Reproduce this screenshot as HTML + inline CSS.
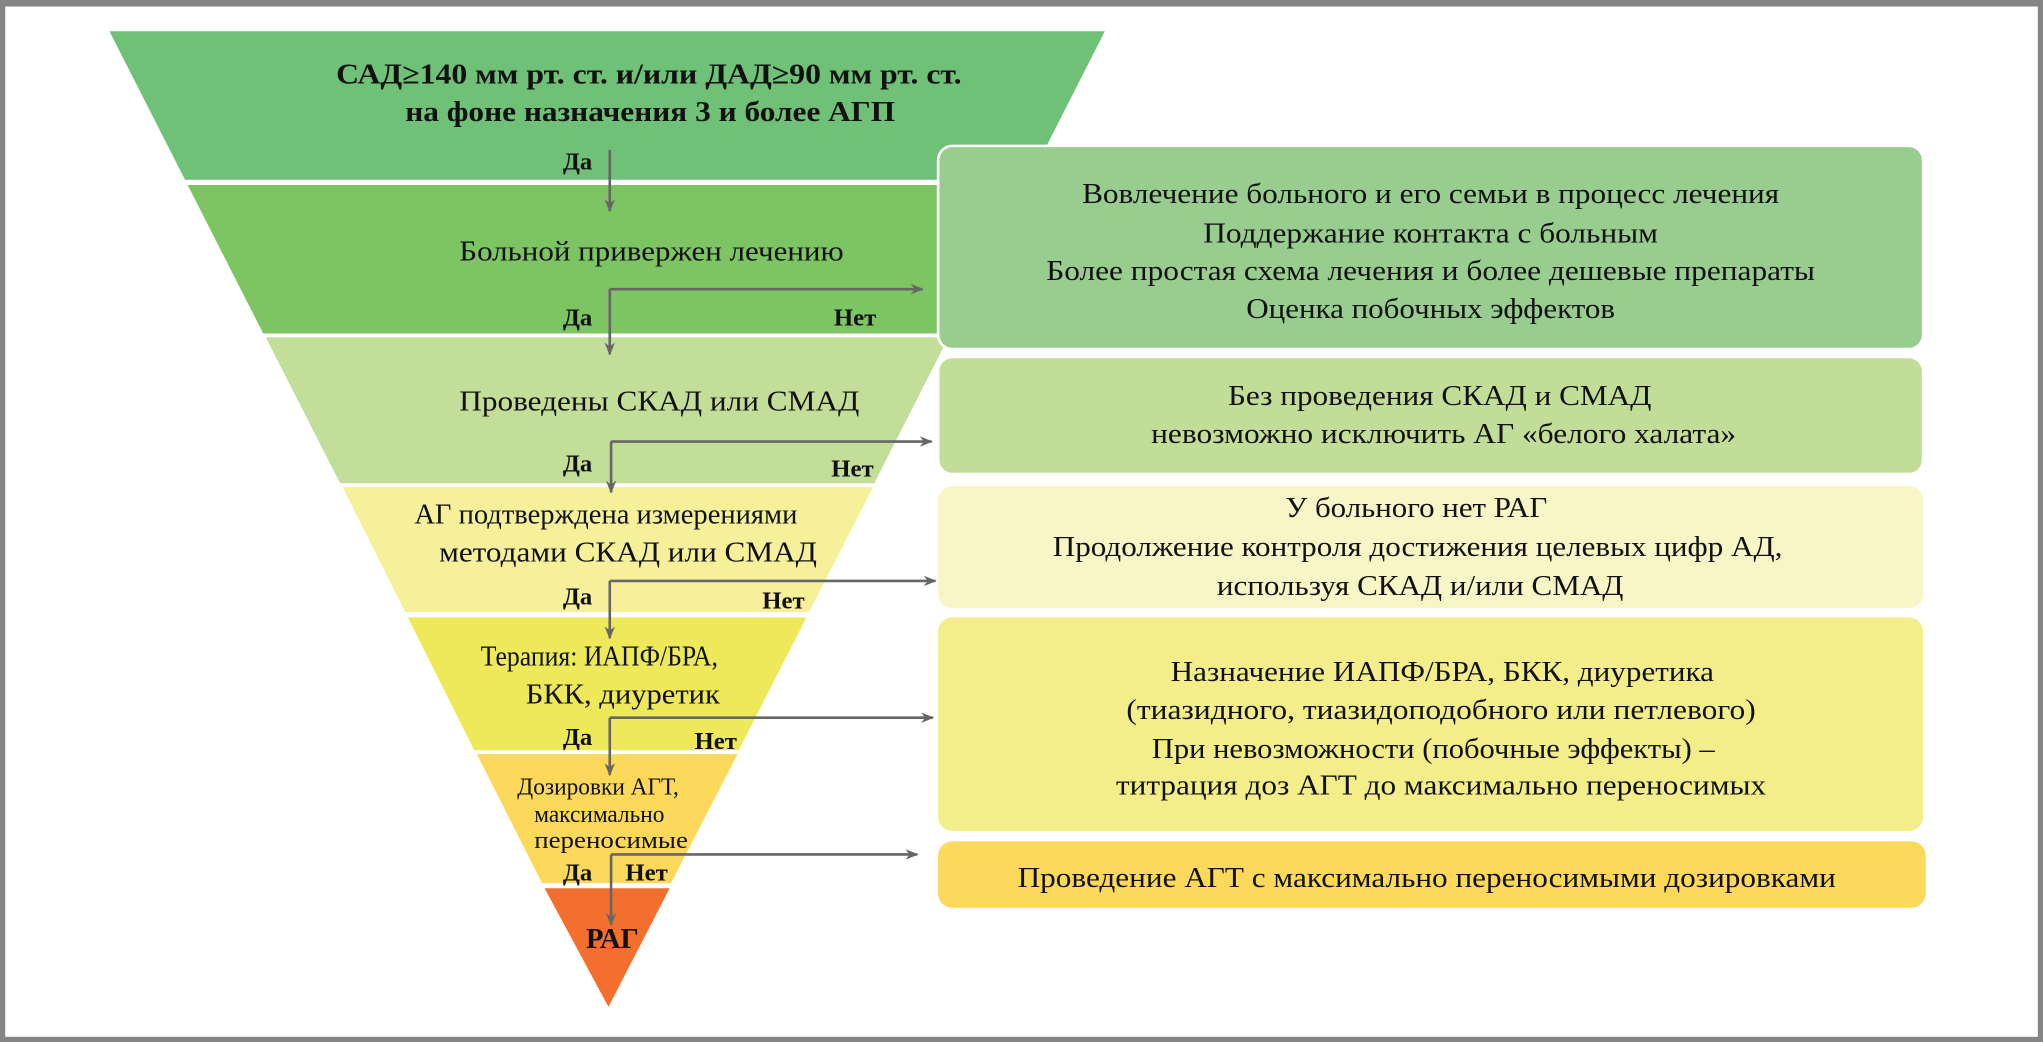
<!DOCTYPE html>
<html><head><meta charset="utf-8"><style>
html,body{margin:0;padding:0;background:#fff}
svg{display:block}
text{font-family:"Liberation Serif",serif;fill:#111}
</style></head><body>
<svg width="2043" height="1042" viewBox="0 0 1568 800" preserveAspectRatio="none">
<defs><marker id="a" markerWidth="10" markerHeight="8" refX="9" refY="4" orient="auto" markerUnits="userSpaceOnUse"><path d="M0,0 L10,4 L0,8 L3,4 Z" fill="#666"/></marker></defs>
<rect x="0" y="0" width="1568" height="800" fill="#858585"/>
<rect x="4" y="5" width="1560" height="791" fill="#fff"/>
<polygon points="84,24 848,24 790,138 142,138" fill="#6ec177"/>
<polygon points="144,142 788,142 730,256 202,256" fill="#7dc462"/>
<polygon points="204,259 728,259 671,371 261,371" fill="#c3de98"/>
<polygon points="263,374 670,374 621,470 311,470" fill="#f6f09b"/>
<polygon points="313,474 619,474 567,576 364,576" fill="#eee95a"/>
<polygon points="366,579 566,579 515,678 416,678" fill="#fcd95a"/>
<polygon points="418,682 514,682 467,773" fill="#f26f2d"/>
<rect x="720" y="112" width="756" height="156" rx="11" fill="#98cd8f" stroke="#fff" stroke-width="2"/>
<rect x="720" y="274" width="756" height="90" rx="11" fill="#c2dd97" stroke="#fff" stroke-width="2"/>
<rect x="720" y="373" width="756" height="94" rx="11" fill="#f8f6c6"/>
<rect x="720" y="474" width="756" height="164" rx="11" fill="#f3ee8a"/>
<rect x="720" y="646" width="758" height="51" rx="11" fill="#fcd95a"/>
<g stroke="#666" stroke-width="2" fill="none">
<path d="M468,115 V162" marker-end="url(#a)"/>
<path d="M468,222 V272" marker-end="url(#a)"/>
<path d="M468,222 H708" marker-end="url(#a)"/>
<path d="M469,339 V378" marker-end="url(#a)"/>
<path d="M469,339 H715" marker-end="url(#a)"/>
<path d="M468,446 V490" marker-end="url(#a)"/>
<path d="M468,446 H718" marker-end="url(#a)"/>
<path d="M468,551 V595" marker-end="url(#a)"/>
<path d="M468,551 H716" marker-end="url(#a)"/>
<path d="M469,656 V710" marker-end="url(#a)"/>
<path d="M469,656 H704" marker-end="url(#a)"/>
</g>
<g text-anchor="middle" font-size="22" lengthAdjust="spacingAndGlyphs">
<text x="498" y="64" font-weight="bold" textLength="480" lengthAdjust="spacingAndGlyphs">САД≥140 мм рт. ст. и/или ДАД≥90 мм рт. ст.</text>
<text x="499" y="93" font-weight="bold" textLength="376" lengthAdjust="spacingAndGlyphs">на фоне назначения 3 и более АГП</text>
<text x="500" y="200" textLength="295" lengthAdjust="spacingAndGlyphs">Больной привержен лечению</text>
<text x="506" y="315" textLength="307" lengthAdjust="spacingAndGlyphs">Проведены СКАД или СМАД</text>
<text x="465" y="402" textLength="294" lengthAdjust="spacingAndGlyphs">АГ подтверждена измерениями</text>
<text x="482" y="431" textLength="290" lengthAdjust="spacingAndGlyphs">методами СКАД или СМАД</text>
<text x="460" y="511" textLength="182" lengthAdjust="spacingAndGlyphs">Терапия: ИАПФ/БРА,</text>
<text x="478" y="540" textLength="149" lengthAdjust="spacingAndGlyphs">БКК, диуретик</text>
<text x="459" y="610" font-size="19" textLength="124" lengthAdjust="spacingAndGlyphs">Дозировки АГТ,</text>
<text x="460" y="631" font-size="19" textLength="100" lengthAdjust="spacingAndGlyphs">максимально</text>
<text x="469" y="651" font-size="19" textLength="118" lengthAdjust="spacingAndGlyphs">переносимые</text>
<text x="470" y="728" font-weight="bold">РАГ</text>
</g>
<g font-size="19" font-weight="bold">
<text x="432" y="130">Да</text>
<text x="432" y="250">Да</text><text x="640" y="250">Нет</text>
<text x="432" y="362">Да</text><text x="638" y="366">Нет</text>
<text x="432" y="464">Да</text><text x="585" y="467">Нет</text>
<text x="432" y="572">Да</text><text x="533" y="575">Нет</text>
<text x="432" y="676">Да</text><text x="480" y="676">Нет</text>
</g>
<g text-anchor="middle" font-size="22">
<text x="1098" y="156" textLength="535" lengthAdjust="spacingAndGlyphs">Вовлечение больного и его семьи в процесс лечения</text>
<text x="1098" y="186" textLength="349" lengthAdjust="spacingAndGlyphs">Поддержание контакта с больным</text>
<text x="1098" y="215" textLength="590" lengthAdjust="spacingAndGlyphs">Более простая схема лечения и более дешевые препараты</text>
<text x="1098" y="244" textLength="283" lengthAdjust="spacingAndGlyphs">Оценка побочных эффектов</text>
<text x="1105" y="311" textLength="325" lengthAdjust="spacingAndGlyphs">Без проведения СКАД и СМАД</text>
<text x="1108" y="340" textLength="449" lengthAdjust="spacingAndGlyphs">невозможно исключить АГ «белого халата»</text>
<text x="1087" y="397" textLength="201" lengthAdjust="spacingAndGlyphs">У больного нет РАГ</text>
<text x="1088" y="427" textLength="560" lengthAdjust="spacingAndGlyphs">Продолжение контроля достижения целевых цифр АД,</text>
<text x="1090" y="457" textLength="312" lengthAdjust="spacingAndGlyphs">используя СКАД и/или СМАД</text>
<text x="1107" y="523" textLength="417" lengthAdjust="spacingAndGlyphs">Назначение ИАПФ/БРА, БКК, диуретика</text>
<text x="1106" y="552" textLength="483" lengthAdjust="spacingAndGlyphs">(тиазидного, тиазидоподобного или петлевого)</text>
<text x="1100" y="582" textLength="432" lengthAdjust="spacingAndGlyphs">При невозможности (побочные эффекты) –</text>
<text x="1106" y="610" textLength="499" lengthAdjust="spacingAndGlyphs">титрация доз АГТ до максимально переносимых</text>
<text x="1095" y="681" textLength="628" lengthAdjust="spacingAndGlyphs">Проведение АГТ с максимально переносимыми дозировками</text>
</g>
</svg>
</body></html>
